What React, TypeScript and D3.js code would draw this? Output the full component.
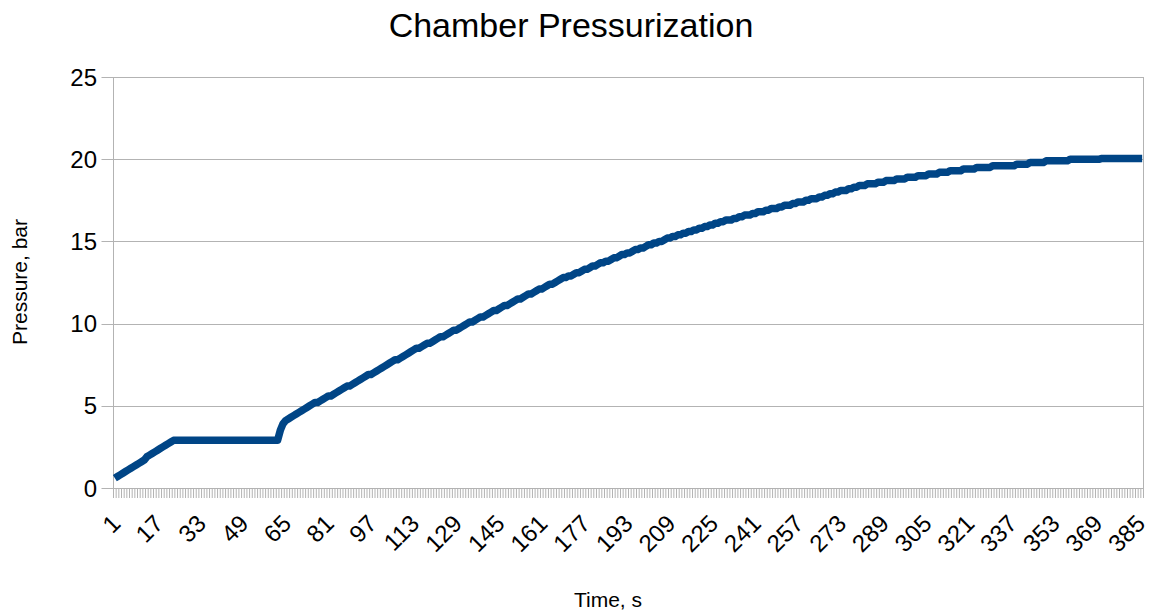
import React from "react";
import * as d3 from "d3";

const title = "Chamber Pressurization";
const xTitle = "Time, s";
const yTitle = "Pressure, bar";
const yTicks = [0, 5, 10, 15, 20, 25];

// Pressure readings (bar), one per second, seconds 1..386
const pressure = [
  0.6,0.7,0.8,0.9,1.0,1.1,1.2,1.3,1.4,1.5,
  1.6,1.7,1.9,2.0,2.1,2.2,2.3,2.4,2.5,2.6,
  2.7,2.8,2.9,2.9,2.9,2.9,2.9,2.9,2.9,2.9,
  2.9,2.9,2.9,2.9,2.9,2.9,2.9,2.9,2.9,2.9,
  2.9,2.9,2.9,2.9,2.9,2.9,2.9,2.9,2.9,2.9,
  2.9,2.9,2.9,2.9,2.9,2.9,2.9,2.9,2.9,2.9,
  2.9,2.9,3.5,3.9,4.1,4.2,4.3,4.4,4.5,4.6,
  4.7,4.8,4.9,5.0,5.1,5.2,5.2,5.3,5.4,5.5,
  5.6,5.6,5.7,5.8,5.9,6.0,6.1,6.2,6.2,6.3,
  6.4,6.5,6.6,6.7,6.8,6.9,6.9,7.0,7.1,7.2,
  7.3,7.4,7.5,7.6,7.7,7.8,7.8,7.9,8.0,8.1,
  8.2,8.3,8.4,8.5,8.5,8.6,8.7,8.8,8.8,8.9,
  9.0,9.1,9.2,9.2,9.3,9.4,9.5,9.6,9.6,9.7,
  9.8,9.9,10.0,10.1,10.1,10.2,10.3,10.4,10.4,10.5,
  10.6,10.7,10.8,10.8,10.9,11.0,11.1,11.1,11.2,11.3,
  11.4,11.5,11.5,11.6,11.7,11.8,11.8,11.9,12.0,12.1,
  12.1,12.2,12.3,12.4,12.4,12.5,12.6,12.7,12.8,12.8,
  12.9,12.9,13.0,13.1,13.1,13.2,13.3,13.3,13.4,13.5,
  13.5,13.6,13.7,13.7,13.8,13.8,13.9,14.0,14.0,14.1,
  14.2,14.2,14.3,14.3,14.4,14.5,14.5,14.6,14.6,14.7,
  14.8,14.8,14.9,14.9,15.0,15.0,15.1,15.2,15.2,15.3,
  15.3,15.4,15.4,15.5,15.5,15.6,15.6,15.7,15.7,15.8,
  15.8,15.9,15.9,16.0,16.0,16.1,16.1,16.2,16.2,16.3,
  16.3,16.3,16.4,16.4,16.5,16.5,16.6,16.6,16.6,16.7,
  16.7,16.8,16.8,16.8,16.9,16.9,17.0,17.0,17.0,17.1,
  17.1,17.2,17.2,17.2,17.3,17.3,17.4,17.4,17.4,17.5,
  17.5,17.6,17.6,17.6,17.7,17.7,17.8,17.8,17.9,17.9,
  18.0,18.0,18.1,18.1,18.1,18.2,18.2,18.3,18.3,18.4,
  18.4,18.4,18.5,18.5,18.5,18.5,18.6,18.6,18.6,18.7,
  18.7,18.7,18.7,18.8,18.8,18.8,18.8,18.9,18.9,18.9,
  18.9,19.0,19.0,19.0,19.0,19.1,19.1,19.1,19.1,19.2,
  19.2,19.2,19.2,19.3,19.3,19.3,19.3,19.3,19.4,19.4,
  19.4,19.4,19.4,19.5,19.5,19.5,19.5,19.5,19.5,19.6,
  19.6,19.6,19.6,19.6,19.6,19.6,19.6,19.6,19.7,19.7,
  19.7,19.7,19.7,19.8,19.8,19.8,19.8,19.8,19.8,19.9,
  19.9,19.9,19.9,19.9,19.9,19.9,19.9,19.9,20.0,20.0,
  20.0,20.0,20.0,20.0,20.0,20.0,20.0,20.0,20.0,20.0,
  20.05,20.05,20.05,20.05,20.05,20.05,20.05,20.05,20.05,20.05,
  20.05,20.05,20.05,20.05,20.05,20.05,
];

// category labels: seconds 1..386
const seconds = pressure.map((_, i) => i + 1);
const labelEvery = 16;

const W = 1152;
const H = 612;
const M = { left: 113.5, right: 1143.5, top: 77, bottom: 488 };
const FONT = "'Liberation Sans', Arial, sans-serif";

export default function App() {
  const x = d3
    .scaleBand<number>()
    .domain(seconds)
    .range([M.left, M.right])
    .paddingInner(0)
    .paddingOuter(0);
  const y = d3.scaleLinear().domain([0, 25]).range([M.bottom, M.top]);
  const bw = x.bandwidth();

  const line = d3
    .line<number>()
    .x((_, i) => (x(seconds[i]) as number) + bw / 2)
    .y((d) => y(d))
    .curve(d3.curveLinear);

  const gridColor = "#b3b3b3";

  return (
    <svg
      width={W}
      height={H}
      style={{ position: "absolute", left: 0, top: 0, background: "#fff" }}
      fontFamily={FONT}
    >
      <rect x={0} y={0} width={W} height={H} fill="#fff" />
      <text x={571} y={37} textAnchor="middle" fontSize={34} fill="#000">
        {title}
      </text>

      {/* horizontal grid + y ticks */}
      {yTicks.map((t) => (
        <g key={t}>
          <line
            x1={M.left - 12}
            x2={M.right}
            y1={Math.round(y(t)) + 0.5}
            y2={Math.round(y(t)) + 0.5}
            stroke={gridColor}
            strokeWidth={1}
          />
          <text
            x={97}
            y={y(t)}
            dy="0.36em"
            textAnchor="end"
            fontSize={24}
            fill="#000"
          >
            {t}
          </text>
        </g>
      ))}

      {/* x ticks at category boundaries */}
      {seconds.concat([seconds.length + 1]).map((s, i) => {
        const xx = M.left + i * bw;
        return (
          <line
            key={"xt" + i}
            x1={xx}
            x2={xx}
            y1={M.bottom}
            y2={M.bottom + 10}
            stroke={gridColor}
            strokeWidth={1}
          />
        );
      })}

      {/* axis frame */}
      <line x1={M.left} x2={M.left} y1={M.top} y2={M.bottom + 10} stroke={gridColor} strokeWidth={1} />
      <line x1={M.right} x2={M.right} y1={M.top} y2={M.bottom} stroke={gridColor} strokeWidth={1} />

      {/* x labels */}
      {seconds
        .filter((s) => (s - 1) % labelEvery === 0)
        .map((s) => {
          const cx = (x(s) as number) + bw / 2;
          return (
            <text
              key={"xl" + s}
              transform={`translate(${cx + 1},${M.bottom + 31}) rotate(-45)`}
              textAnchor="end"
              dy="0.36em"
              fontSize={24}
              fill="#000"
            >
              {s}
            </text>
          );
        })}

      {/* data line */}
      <path
        d={line(pressure) || ""}
        fill="none"
        stroke="#004586"
        strokeWidth={7.5}
        strokeLinejoin="round"
        strokeLinecap="butt"
      />

      {/* axis titles */}
      <text x={608} y={607} textAnchor="middle" fontSize={21} fill="#000">
        {xTitle}
      </text>
      <text
        transform={`translate(27,282) rotate(-90)`}
        textAnchor="middle"
        fontSize={21}
        fill="#000"
      >
        {yTitle}
      </text>
    </svg>
  );
}
